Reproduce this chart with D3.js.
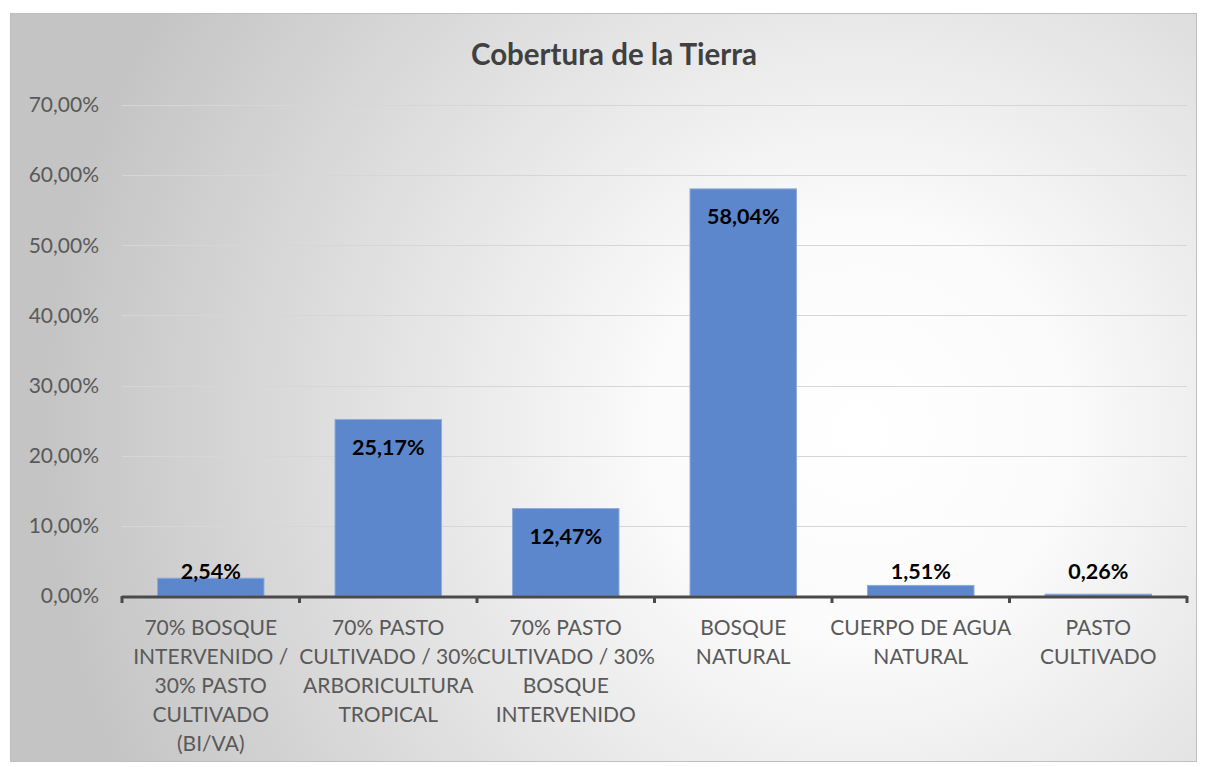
<!DOCTYPE html>
<html>
<head>
    <title>Cobertura de la Tierra</title>
    <script src="https://d3js.org/d3.v7.min.js"></script>
    <style>
        body { margin: 0; background: #fff; }
        text { font-family: Lato, "Open Sans", sans-serif; }
        .grid line { stroke: #d6d6d6; stroke-width: 1px; }
        .y-label { font-size: 21px; fill: #595959; }
        .x-label { font-size: 21px; fill: #595959; }
        .value-label { font-size: 21.5px; font-weight: bold; fill: #000; }
    </style>
</head>
<body>
    <svg width="1207" height="767"></svg>

    <script>
        // Chart data
        const categories = [
            "70% BOSQUE INTERVENIDO / 30% PASTO CULTIVADO (BI/VA)",
            "70% PASTO CULTIVADO / 30% ARBORICULTURA TROPICAL",
            "70% PASTO CULTIVADO / 30% BOSQUE INTERVENIDO",
            "BOSQUE NATURAL",
            "CUERPO DE AGUA NATURAL",
            "PASTO CULTIVADO"
        ];
        const categoryLines = [
            ["70% BOSQUE", "INTERVENIDO /", "30% PASTO", "CULTIVADO", "(BI/VA)"],
            ["70% PASTO", "CULTIVADO / 30%", "ARBORICULTURA", "TROPICAL"],
            ["70% PASTO", "CULTIVADO / 30%", "BOSQUE", "INTERVENIDO"],
            ["BOSQUE", "NATURAL"],
            ["CUERPO DE AGUA", "NATURAL"],
            ["PASTO", "CULTIVADO"]
        ];
        const values = [2.54, 25.17, 12.47, 58.04, 1.51, 0.26];
        const yTicks = [0, 10, 20, 30, 40, 50, 60, 70];

        const fmt = v => v.toFixed(2).replace(".", ",") + "%";

        const svg = d3.select("svg");
        const width = +svg.attr("width");
        const height = +svg.attr("height");

        // Background with radial gradient
        const defs = svg.append("defs");
        const grad = defs.append("radialGradient")
            .attr("id", "bg")
            .attr("gradientUnits", "userSpaceOnUse")
            .attr("cx", 860).attr("cy", 430).attr("r", 820);
        grad.append("stop").attr("offset", "0%").attr("stop-color", "#ffffff");
        grad.append("stop").attr("offset", "25%").attr("stop-color", "#fbfbfb");
        grad.append("stop").attr("offset", "100%").attr("stop-color", "#c4c4c4");

        svg.append("rect")
            .attr("x", 10.5).attr("y", 13.5)
            .attr("width", 1186).attr("height", 748)
            .attr("fill", "url(#bg)")
            .attr("stroke", "#bfbfbf")
            .attr("stroke-width", 1);

        const margin = { left: 122, right: 20, top: 105, bottom: 171 };
        const plotRight = width - margin.right;
        const plotBottom = height - margin.bottom;

        const x = d3.scaleBand()
            .domain(categories)
            .range([margin.left, plotRight])
            .paddingInner(0.4)
            .paddingOuter(0.2);

        const y = d3.scaleLinear()
            .domain([0, 70])
            .range([plotBottom, margin.top]);

        // Title
        svg.append("text")
            .attr("x", 614)
            .attr("y", 65)
            .attr("text-anchor", "middle")
            .attr("font-size", 29.5)
            .attr("font-weight", "bold")
            .attr("fill", "#404040")
            .text("Cobertura de la Tierra");

        // Gridlines
        svg.append("g")
            .attr("class", "grid")
            .selectAll("line")
            .data(yTicks.filter(t => t > 0))
            .enter().append("line")
            .attr("x1", margin.left)
            .attr("x2", plotRight)
            .attr("y1", d => Math.round(y(d)) + 0.5)
            .attr("y2", d => Math.round(y(d)) + 0.5);

        // Y labels
        svg.append("g")
            .selectAll("text")
            .data(yTicks)
            .enter().append("text")
            .attr("class", "y-label")
            .attr("x", 99)
            .attr("y", d => y(d))
            .attr("dy", "0.35em")
            .attr("text-anchor", "end")
            .text(d => fmt(d));

        // Bars
        svg.append("g")
            .selectAll("rect")
            .data(values)
            .enter().append("rect")
            .attr("x", (d, i) => x(categories[i]))
            .attr("y", d => y(d))
            .attr("width", x.bandwidth())
            .attr("height", d => plotBottom - y(d))
            .attr("fill", "#5d87cd")
            .attr("stroke", "#8fabdc")
            .attr("stroke-width", 1);

        // Value labels (inside end if room, else above)
        svg.append("g")
            .selectAll("text")
            .data(values)
            .enter().append("text")
            .attr("class", "value-label")
            .attr("x", (d, i) => x(categories[i]) + x.bandwidth() / 2)
            .attr("y", d => (plotBottom - y(d) > 40) ? y(d) + 28 : plotBottom - 25)
            .attr("dy", "0.35em")
            .attr("text-anchor", "middle")
            .text(d => fmt(d));

        // X axis line with tick marks
        const bounds = d3.range(categories.length + 1).map(i => margin.left + i * (plotRight - margin.left) / categories.length);
        const axis = svg.append("g");
        axis.append("line")
            .attr("x1", margin.left)
            .attr("x2", plotRight)
            .attr("y1", plotBottom + 1)
            .attr("y2", plotBottom + 1)
            .attr("stroke", "#4a4a4a")
            .attr("stroke-width", 3);
        axis.selectAll(".tick")
            .data(bounds)
            .enter().append("line")
            .attr("x1", d => d)
            .attr("x2", d => d)
            .attr("y1", plotBottom)
            .attr("y2", plotBottom + 7)
            .attr("stroke", "#4a4a4a")
            .attr("stroke-width", 3);

        // Category labels
        const xl = svg.append("g")
            .selectAll("text")
            .data(categories)
            .enter().append("text")
            .attr("class", "x-label")
            .attr("text-anchor", "middle")
            .attr("x", d => x(d) + x.bandwidth() / 2)
            .attr("y", plotBottom + 39);
        xl.selectAll("tspan")
            .data((d, i) => categoryLines[i])
            .enter().append("tspan")
            .attr("x", function () { return this.parentNode.getAttribute("x"); })
            .attr("dy", (d, i) => i === 0 ? 0 : 29)
            .text(d => d);
    </script>
</body>
</html>
